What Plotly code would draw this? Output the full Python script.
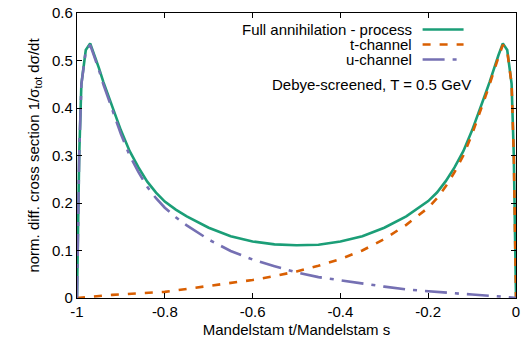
import plotly.graph_objects as go

# ---- data ----
x_vals = [-1, -0.995, -0.99, -0.98, -0.97, -0.96, -0.95, -0.94, -0.93, -0.92, -0.91, -0.90,
          -0.88, -0.86, -0.84, -0.82, -0.80, -0.775, -0.75, -0.70, -0.65, -0.60, -0.55, -0.50,
          -0.45, -0.40, -0.35, -0.30, -0.25, -0.20, -0.18, -0.16, -0.14, -0.12, -0.10, -0.09,
          -0.08, -0.07, -0.06, -0.05, -0.04, -0.03, -0.02, -0.01, -0.005, 0]

full_vals = [0, 0.30, 0.451, 0.522, 0.536, 0.511, 0.484, 0.455, 0.429, 0.403, 0.377, 0.353,
             0.309, 0.275, 0.245, 0.222, 0.203, 0.186, 0.172, 0.148, 0.130, 0.119, 0.113, 0.111,
             0.112, 0.119, 0.130, 0.148, 0.172, 0.204, 0.222, 0.246, 0.275, 0.309, 0.353, 0.377,
             0.403, 0.429, 0.455, 0.484, 0.511, 0.536, 0.522, 0.451, 0.30, 0]

t_vals = [0, 0.0005, 0.001, 0.002, 0.0028, 0.0035, 0.004, 0.005, 0.0058, 0.0065, 0.007, 0.0075,
          0.0085, 0.0095, 0.0105, 0.012, 0.013, 0.016, 0.019, 0.025, 0.031, 0.038, 0.046, 0.056,
          0.068, 0.082, 0.100, 0.124, 0.154, 0.190, 0.210, 0.235, 0.265, 0.300, 0.345, 0.370,
          0.396, 0.423, 0.45, 0.48, 0.507, 0.533, 0.52, 0.45, 0.30, 0]

u_vals = [0, 0.30, 0.45, 0.52, 0.533, 0.507, 0.48, 0.45, 0.423, 0.396, 0.370, 0.345,
          0.300, 0.265, 0.234, 0.210, 0.190, 0.170, 0.153, 0.123, 0.099, 0.081, 0.067, 0.054,
          0.044, 0.037, 0.030, 0.024, 0.018, 0.0138, 0.012, 0.0108, 0.0095, 0.0085, 0.0075, 0.007,
          0.0065, 0.006, 0.0052, 0.004, 0.0035, 0.0028, 0.002, 0.001, 0.0005, 0]

series_names = ["Full annihilation - process", "t-channel", "u-channel"]
x_tickvals = [-1, -0.8, -0.6, -0.4, -0.2, 0]
x_ticktext = ["-1", "-0.8", "-0.6", "-0.4", "-0.2", "0"]
y_tickvals = [0, 0.1, 0.2, 0.3, 0.4, 0.5, 0.6]
y_ticktext = ["0", "0.1", "0.2", "0.3", "0.4", "0.5", "0.6"]
note_text = "Debye-screened, T = 0.5 GeV"

# ---- styling ----
colors = ["#1b9e77", "#d95f02", "#7570b3"]
dashes = ["solid", "8px,9px", "22px,8px,4px,8px"]
LW = 2.6
FONT = "Liberation Sans, Arial, Helvetica, sans-serif"

W, H = 523, 342
ML, MR, MT, MB = 77, 6.5, 13, 43.7
PW, PH = W - ML - MR, H - MT - MB

def px_x(px):
    return (px - ML) / PW

def px_y(py):
    return (H - MB - py) / PH

fig = go.Figure()
for name, ys, c, d in zip(series_names, [full_vals, t_vals, u_vals], colors, dashes):
    fig.add_trace(go.Scatter(x=x_vals, y=ys, mode="lines", name=name, showlegend=False,
                             line=dict(color=c, width=LW, dash=d)))

axis_common = dict(showline=True, linecolor="black", linewidth=1.2, mirror="allticks",
                   ticks="inside", ticklen=5, tickwidth=1, tickcolor="black",
                   showgrid=False, zeroline=False, automargin=False,
                   tickfont=dict(family=FONT, size=15, color="black"))

fig.update_layout(
    width=W, height=H,
    margin=dict(l=ML, r=MR, t=MT, b=MB, pad=0),
    paper_bgcolor="white", plot_bgcolor="white",
    font=dict(family=FONT, size=15, color="black"),
    xaxis=dict(range=[-1, 0], tickvals=x_tickvals, ticktext=x_ticktext,
               title=dict(text="Mandelstam t/Mandelstam s", standoff=5,
                          font=dict(family=FONT, size=15)),
               **axis_common),
    yaxis=dict(range=[0, 0.6], tickvals=y_tickvals, ticktext=y_ticktext,
               title=dict(text="norm. diff. cross section 1/σ<sub>tot</sub> dσ/dt", standoff=8,
                          font=dict(family=FONT, size=15)),
               **axis_common),
)

# custom legend: right-aligned text, samples on the right (gnuplot style)
legend_rows_py = [29.5, 44.5, 59.5]
text_right_px = 414
sample_x0_px, sample_x1_px = 423, 464
for name, c, d, py in zip(series_names, colors, dashes, legend_rows_py):
    fig.add_annotation(xref="paper", yref="paper", x=px_x(text_right_px), y=px_y(py),
                       text=name, showarrow=False, xanchor="right", yanchor="middle",
                       font=dict(family=FONT, size=15, color="black"))
    fig.add_shape(type="line", xref="paper", yref="paper",
                  x0=px_x(sample_x0_px), x1=px_x(sample_x1_px), y0=px_y(py), y1=px_y(py),
                  line=dict(color=c, width=LW, dash=d))

fig.add_annotation(xref="paper", yref="paper", x=px_x(473), y=px_y(85),
                   text=note_text, showarrow=False, xanchor="right", yanchor="middle",
                   font=dict(family=FONT, size=15, color="black"))

fig.write_html("out.html", config={"displayModeBar": False},
               post_script="document.body.style.margin='0';document.body.style.overflow='hidden';")
